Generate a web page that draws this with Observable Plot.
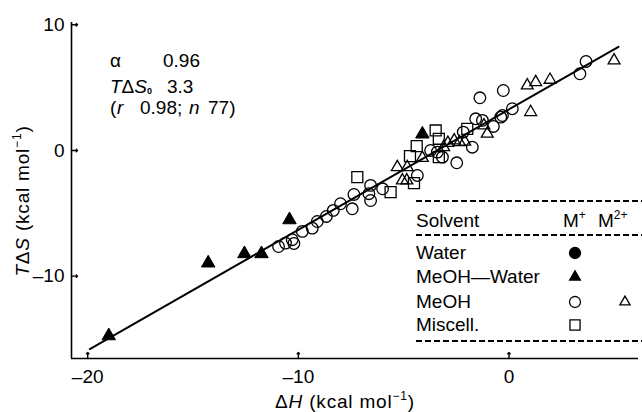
<!DOCTYPE html>
<html><head><meta charset="utf-8">
<script src="https://cdn.jsdelivr.net/npm/d3@7"></script>
<script src="https://cdn.jsdelivr.net/npm/@observablehq/plot@0.6"></script>
<style>
html,body{margin:0;padding:0;background:#fff;}
#chart{width:642px;height:412px;}
</style></head><body><div id="chart"></div>
<script>
// ---- axes ----
const xDomain = [-20.77, 6.15];
const yDomain = [-16.55, 10.18];
const xTicks = [-20, -10, 0];
const yTicks = [-10, 0, 10];

// ---- regression line ----
const fitX = [-19.9, 5.2];
const fitY = [-15.8, 8.25];

// ---- MeOH–Water, M+ (filled triangles) ----
const mwTriX = [-19.0, -14.28, -12.56, -11.75, -10.42, -4.11];
const mwTriY = [-14.75, -8.96, -8.22, -8.22, -5.52, 1.3];

// ---- MeOH, M+ (open circles) ----
const meCircX = [-10.94, -10.61, -10.29, -10.21, -9.81, -9.34, -9.10, -8.67, -8.34, -8.0, -7.44, -7.36, -6.65, -6.57, -6.57, -6.0, -4.35, -3.72, -3.40, -3.16, -2.48, -1.74, -2.17, -1.58, -1.26, -0.74, -0.39, -0.31, 0.16, -1.38, -0.27, 3.37, 3.66];
const meCircY = [-7.64, -7.37, -7.10, -7.40, -6.44, -6.18, -5.65, -5.25, -4.77, -4.24, -4.64, -3.50, -3.44, -3.98, -2.78, -3.05, -1.99, 0.0, -0.13, -0.53, -0.98, 0.26, 1.46, 2.52, 2.39, 1.91, 2.65, 2.78, 3.32, 4.19, 4.77, 6.1, 7.08];

// ---- MeOH, M2+ (open triangles) ----
const meTriX = [4.99, 0.87, 1.27, 1.95, 1.03, -1.19, -1.03, -2.9, -2.6, -2.35, -2.1, -3.1, -4.11, -5.30, -4.83, -5.06, -4.85];
const meTriY = [7.16, 5.17, 5.43, 5.62, 3.05, 1.99, 1.33, 0.6, 0.8, 0.66, 0.7, 0.26, -0.6, -1.33, -1.33, -2.39, -2.39];

// ---- Miscell., M+ (open squares) ----
const miscX = [-7.2, -5.62, -4.51, -4.70, -4.38, -3.48, -3.33, -3.33, -1.98];
const miscY = [-2.12, -3.32, -2.6, -0.45, 0.34, 1.59, 0.93, -0.53, 1.72];

// ---- legend ----
const legendRows = ["Water", "MeOH\u2014Water", "MeOH", "Miscell."];

const zip = (xs, ys) => xs.map((x, i) => ({x, y: ys[i]}));
const fmt = d => d < 0 ? "\u2013" + Math.abs(d) : String(d);
const font = "'Liberation Sans', Arial, sans-serif";
const FS = 19;

const plot = Plot.plot({
  width: 642, height: 412,
  marginLeft: 71, marginRight: 4, marginTop: 22, marginBottom: 54,
  x: {domain: xDomain},
  y: {domain: yDomain},
  style: {fontFamily: font, fontSize: FS + "px", color: "#000", background: "#fff", overflow: "visible"},
  marks: [
    Plot.axisX({ticks: xTicks, tickSize: 0, tickPadding: 11, tickFormat: fmt, label: null, fontSize: FS}),
    Plot.axisY({ticks: yTicks, tickSize: 0, tickPadding: 7, tickFormat: fmt, label: null, fontSize: FS}),
    Plot.ruleX([xDomain[0]], {stroke: "#000", strokeWidth: 1.6}),
    Plot.ruleY([yDomain[0]], {stroke: "#000", strokeWidth: 1.6}),
    Plot.vector(xTicks, {x: d => d, y: () => yDomain[0], length: 6, rotate: 0, anchor: "start", stroke: "#000", strokeWidth: 1.4}),
    Plot.vector(yTicks, {x: () => xDomain[0], y: d => d, length: 6, rotate: 90, anchor: "start", stroke: "#000", strokeWidth: 1.4}),
    Plot.line(zip(fitX, fitY), {x: "x", y: "y", stroke: "#000", strokeWidth: 2}),
    Plot.dot(zip(meCircX, meCircY), {x: "x", y: "y", r: 5.8, stroke: "#000", fill: "none", strokeWidth: 1.3}),
    Plot.dot(zip(miscX, miscY), {x: "x", y: "y", r: 6.2, symbol: "square", stroke: "#000", fill: "none", strokeWidth: 1.3}),
    Plot.dot(zip(meTriX, meTriY), {x: "x", y: "y", r: 4.4, symbol: "triangle", stroke: "#000", fill: "none", strokeWidth: 1.3}),
    Plot.dot(zip(mwTriX, mwTriY), {x: "x", y: "y", r: 5, symbol: "triangle", fill: "#000", stroke: "#000", strokeWidth: 1})
  ]
});

document.getElementById("chart").appendChild(plot);
const svg = d3.select(plot);
const g = svg.append("g").attr("font-family", font).attr("font-size", FS).attr("fill", "#000").attr("text-anchor", "start");

// annotation
g.append("text").attr("x", 110).attr("y", 67).text("\u03b1");
g.append("text").attr("x", 163).attr("y", 67).text("0.96");
const t2 = g.append("text").attr("x", 110).attr("y", 93);
t2.append("tspan").attr("font-style", "italic").text("T");
t2.append("tspan").text("\u0394");
t2.append("tspan").attr("font-style", "italic").text("S");
t2.append("tspan").attr("font-size", 9).attr("font-weight", "bold").attr("dy", 1).text("0");
g.append("text").attr("x", 167).attr("y", 93).text("3.3");
const t3 = g.append("text").attr("y", 114);
t3.append("tspan").attr("x", 110).text("(");
t3.append("tspan").attr("x", 117).attr("font-style", "italic").text("r");
t3.append("tspan").attr("x", 140).text("0.98;");
t3.append("tspan").attr("x", 189).attr("font-style", "italic").text("n");
t3.append("tspan").attr("x", 208).text("77)");

// axis titles
const xl = g.append("text").attr("x", 345).attr("y", 408).attr("text-anchor", "middle").attr("letter-spacing", 0.8);
xl.append("tspan").text("\u0394");
xl.append("tspan").attr("font-style", "italic").text("H");
xl.append("tspan").text(" (kcal mol");
xl.append("tspan").attr("font-size", 12).attr("dy", -8).text("\u22121");
xl.append("tspan").attr("dy", 8).text(")");

const yl = g.append("text").attr("transform", "translate(29,201) rotate(-90)").attr("text-anchor", "middle").attr("letter-spacing", 0.8);
yl.append("tspan").attr("font-style", "italic").text("T");
yl.append("tspan").text("\u0394");
yl.append("tspan").attr("font-style", "italic").text("S");
yl.append("tspan").text(" (kcal mol");
yl.append("tspan").attr("font-size", 12).attr("dy", -8).text("\u22121");
yl.append("tspan").attr("dy", 8).text(")");

// legend
const lg = g.append("g");
[201, 235, 341].forEach(y => {
  lg.append("line").attr("x1", 416).attr("x2", 642).attr("y1", y).attr("y2", y)
    .attr("stroke", "#000").attr("stroke-width", 2).attr("stroke-dasharray", "6,3");
});
lg.append("text").attr("x", 416).attr("y", 227).text("Solvent");
const m1 = lg.append("text").attr("x", 563).attr("y", 227);
m1.append("tspan").text("M");
m1.append("tspan").attr("font-size", 12).attr("dy", -8).text("+");
const m2 = lg.append("text").attr("x", 598).attr("y", 227);
m2.append("tspan").text("M");
m2.append("tspan").attr("font-size", 12).attr("dy", -8).text("2+");
const rowY = [259, 283, 308, 331];
legendRows.forEach((r, i) => lg.append("text").attr("x", 416).attr("y", rowY[i]).text(r));
const sym = (type, r) => d3.symbol(type, Math.PI * r * r)();
const legSyms = [
  {x: 575, y: 253, type: d3.symbolCircle, r: 5.5, fill: "#000"},
  {x: 575, y: 277, type: d3.symbolTriangle, r: 4.0, fill: "#000"},
  {x: 575, y: 302, type: d3.symbolCircle, r: 5.5, fill: "none"},
  {x: 625, y: 302, type: d3.symbolTriangle, r: 3.8, fill: "none"},
  {x: 575, y: 325, type: d3.symbolSquare, r: 5.7, fill: "none"}
];
legSyms.forEach(s => {
  lg.append("path").attr("d", sym(s.type, s.r)).attr("transform", `translate(${s.x},${s.y})`)
    .attr("fill", s.fill).attr("stroke", "#000").attr("stroke-width", 1.3);
});
</script></body></html>
